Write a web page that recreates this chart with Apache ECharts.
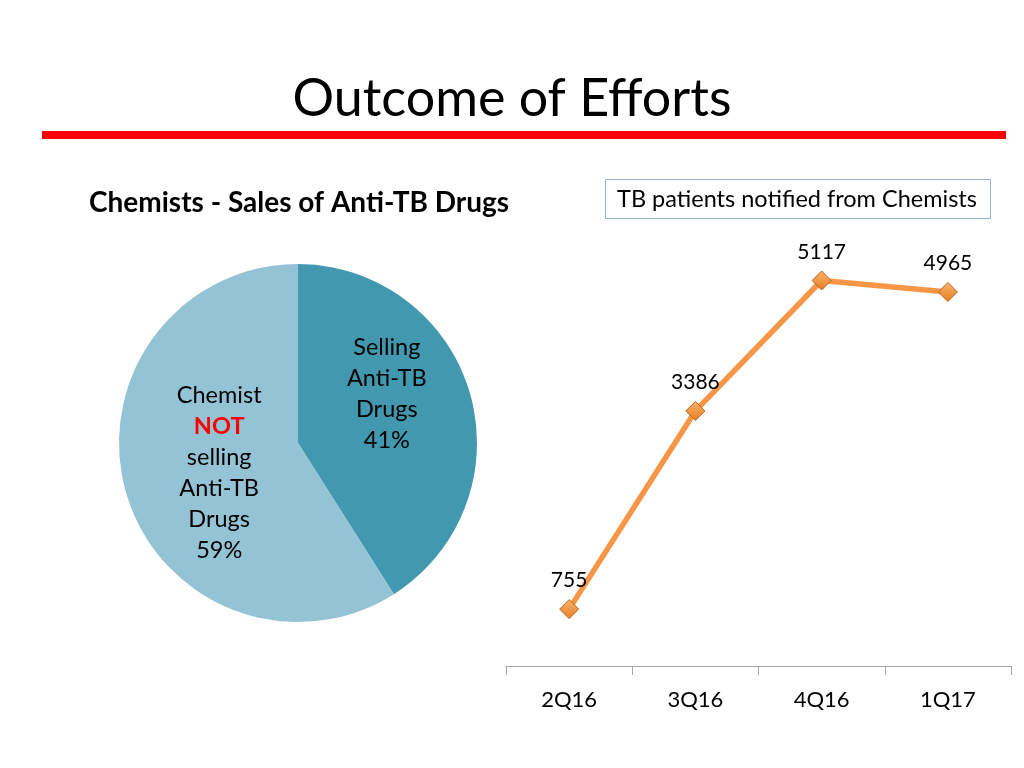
<!DOCTYPE html>
<html>
<head>
<meta charset="utf-8">
<script src="https://cdn.jsdelivr.net/npm/echarts@6/dist/echarts.min.js"></script>
<style>
html,body{margin:0;padding:0;background:#fff;}
#chart{width:1024px;height:768px;}
</style>
</head>
<body>
<div id="chart"></div>
<script>
// ---- data ----
const pageTitle = 'Outcome of Efforts';
const pieTitle = 'Chemists - Sales of Anti-TB Drugs';
const lineTitle = 'TB patients notified from Chemists';
const pieNames = ['Selling Anti-TB Drugs', 'Chemist NOT selling Anti-TB Drugs'];
const pieValues = [41, 59];
const quarters = ['2Q16', '3Q16', '4Q16', '1Q17'];
const notified = [755, 3386, 5117, 4965];

const FONT = 'Lato, "Open Sans", sans-serif';
const chart = echarts.init(document.getElementById('chart'));

chart.setOption({
  backgroundColor: '#ffffff',
  animation: false,
  textStyle: { fontFamily: FONT },
  title: [
    { text: pageTitle, left: 'center', top: 68,
      textStyle: { fontFamily: FONT, fontSize: 52, fontWeight: 'normal', color: '#000' } },
    { text: pieTitle, left: 84, top: 184,
      textStyle: { fontFamily: FONT, fontSize: 28, fontWeight: 'bold', color: '#000' } },
    { text: lineTitle, left: 605, top: 179, padding: [8, 14, 8, 12],
      borderColor: '#95B3D7', borderWidth: 1,
      textStyle: { fontFamily: FONT, fontSize: 23.5, fontWeight: 'normal', color: '#000' } }
  ],
  graphic: [
    { type: 'rect', shape: { x: 42, y: 131, width: 964, height: 8 },
      style: { fill: '#FF0000' }, silent: true }
  ],
  grid: { left: 506, right: 13, top: 214, bottom: 102 },
  xAxis: {
    type: 'category', data: quarters, boundaryGap: true,
    axisLine: { lineStyle: { color: '#A6A6A6', width: 1 } },
    axisTick: { show: true, length: 9, lineStyle: { color: '#A6A6A6' }, alignWithLabel: false },
    axisLabel: { color: '#000', fontSize: 22, fontFamily: FONT, margin: 23 },
    splitLine: { show: false }
  },
  yAxis: {
    type: 'value', min: 0, max: 6000, show: false, splitLine: { show: false }
  },
  series: [
    {
      type: 'pie', center: [298, 443], radius: 179, startAngle: 90, clockwise: true,
      data: [
        { name: pieNames[0], value: pieValues[0], itemStyle: { color: '#4298AF' },
          label: { formatter: 'Selling\nAnti-TB\nDrugs\n{d}%', padding: [0, 0, 46, 0] } },
        { name: pieNames[1], value: pieValues[1], itemStyle: { color: '#93C3D5' },
          label: { formatter: 'Chemist\n{r|NOT}\nselling\nAnti-TB\nDrugs\n{d}%', padding: [8, 0, 0, 20] } }
      ],
      label: {
        show: true, position: 'inside', color: '#000', fontSize: 23.5, lineHeight: 31,
        fontFamily: FONT,
        rich: { r: { color: '#FF0000', fontWeight: 'bold', fontSize: 23.5, lineHeight: 31, fontFamily: FONT } }
      },
      labelLine: { show: false },
      emphasis: { disabled: true }
    },
    {
      type: 'line', data: notified,
      lineStyle: { color: '#F79646', width: 5.5 },
      itemStyle: {
        color: new echarts.graphic.LinearGradient(0, 0, 0, 1, [
          { offset: 0, color: '#FBB46E' }, { offset: 1, color: '#E57C22' }
        ]),
        borderColor: '#B9651E', borderWidth: 1
      },
      symbol: 'diamond', symbolSize: 19, showAllSymbol: true,
      label: { show: true, position: 'top', distance: 8, color: '#000', fontSize: 21, fontFamily: FONT },
      emphasis: { disabled: true }
    }
  ]
});
</script>
</body>
</html>
